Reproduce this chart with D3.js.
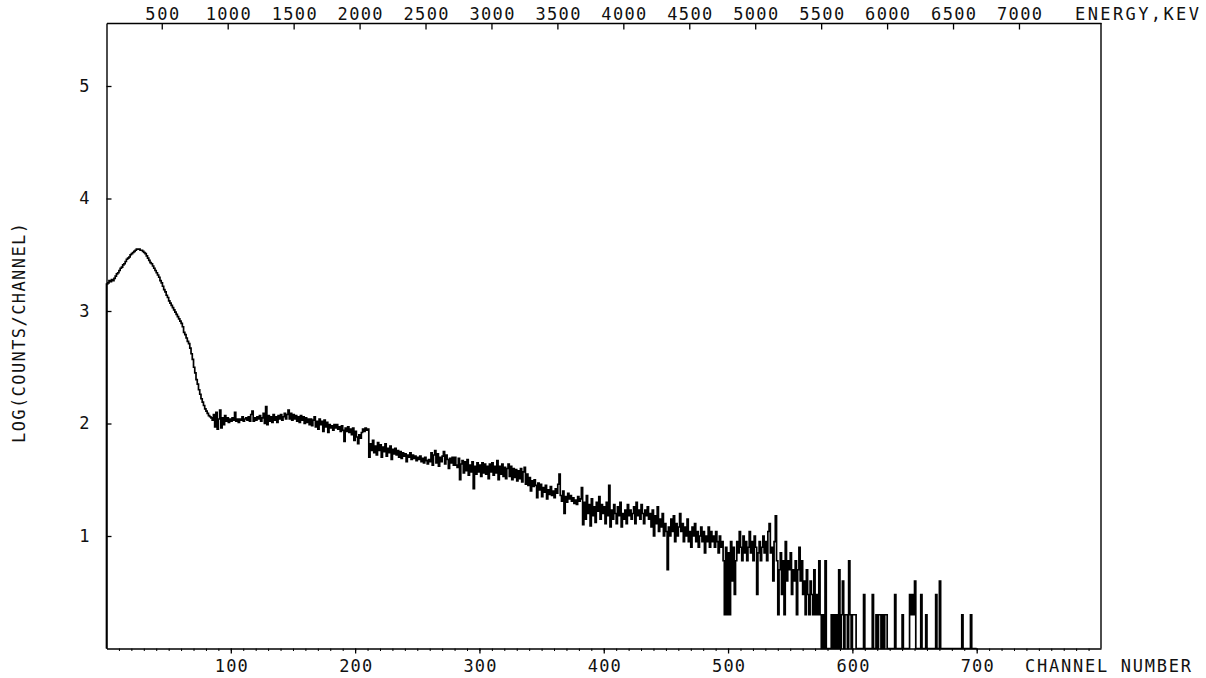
<!DOCTYPE html>
<html><head><meta charset="utf-8">
<script src="https://cdn.jsdelivr.net/npm/d3@7"></script>
<style>
body{margin:0;background:#fff}
text{font-family:"DejaVu Sans Mono",monospace;font-size:17px;fill:#111}
</style>
</head><body>
<svg id="chart" width="1206" height="678"></svg>
<script>
// log10(counts) per channel
const ch000_099 = [
 3.24,3.25,3.27,3.26,3.28,3.27,3.29,3.31,3.33,3.34,
 3.36,3.38,3.39,3.41,3.42,3.44,3.46,3.47,3.48,3.50,
 3.51,3.52,3.53,3.54,3.55,3.55,3.55,3.54,3.54,3.53,
 3.52,3.51,3.49,3.47,3.45,3.43,3.42,3.40,3.38,3.36,
 3.34,3.32,3.30,3.27,3.25,3.22,3.19,3.17,3.14,3.12,
 3.09,3.07,3.05,3.03,3.01,2.99,2.97,2.95,2.93,2.91,
 2.89,2.86,2.81,2.79,2.76,2.73,2.71,2.67,2.62,2.57,
 2.50,2.45,2.39,2.35,2.30,2.26,2.22,2.19,2.16,2.13,
 2.11,2.09,2.07,2.06,2.05,2.03,2.08,1.97,2.10,1.95,
 2.04,2.12,1.96,2.05,1.99,2.07,2.02,2.05,2.01,2.04];
const ch100_199 = [
 2.02,2.05,2.03,2.10,2.02,2.04,2.01,2.04,2.03,2.06,
 2.02,2.04,2.05,2.03,2.06,2.02,2.08,2.11,2.02,2.05,
 2.03,2.06,2.04,2.07,2.02,2.05,2.09,2.00,2.15,1.99,
 2.07,2.02,2.06,2.01,2.08,2.03,2.06,2.01,2.07,2.04,
 2.08,2.03,2.06,2.09,2.04,2.08,2.12,2.04,2.09,2.03,
 2.08,2.04,2.07,2.02,2.06,2.01,2.07,2.03,2.06,2.00,
 2.05,2.01,2.04,1.99,2.04,1.98,2.03,2.06,1.97,2.02,
 1.95,2.04,1.99,2.02,1.93,2.03,1.97,2.01,1.92,1.99,
 1.96,1.98,1.94,1.99,1.96,1.99,1.95,1.97,1.93,1.98,
 1.94,1.84,1.96,1.93,1.97,1.92,1.95,1.90,1.96,1.85];
const ch200_299 = [
 1.93,1.88,1.82,1.90,1.87,1.92,1.95,1.93,1.96,1.94,
 1.95,1.70,1.82,1.76,1.85,1.74,1.80,1.72,1.83,1.76,
 1.81,1.70,1.79,1.75,1.82,1.71,1.78,1.74,1.80,1.68,
 1.77,1.73,1.78,1.72,1.76,1.70,1.75,1.69,1.74,1.71,
 1.73,1.66,1.72,1.70,1.74,1.68,1.72,1.69,1.71,1.67,
 1.70,1.68,1.71,1.66,1.69,1.65,1.70,1.67,1.64,1.68,
 1.66,1.74,1.63,1.72,1.76,1.65,1.73,1.62,1.70,1.66,
 1.71,1.75,1.64,1.72,1.68,1.60,1.69,1.65,1.70,1.63,
 1.70,1.63,1.61,1.69,1.50,1.64,1.67,1.56,1.66,1.58,
 1.68,1.54,1.63,1.57,1.66,1.42,1.62,1.55,1.65,1.57];
const ch300_399 = [
 1.63,1.53,1.65,1.56,1.64,1.55,1.62,1.51,1.64,1.57,
 1.65,1.54,1.62,1.56,1.67,1.50,1.62,1.55,1.64,1.53,
 1.61,1.51,1.60,1.64,1.53,1.62,1.50,1.60,1.52,1.59,
 1.49,1.58,1.51,1.60,1.48,1.57,1.61,1.46,1.55,1.45,
 1.52,1.40,1.49,1.44,1.50,1.45,1.34,1.47,1.41,1.46,
 1.35,1.43,1.39,1.45,1.33,1.41,1.37,1.44,1.36,1.40,
 1.34,1.42,1.38,1.46,1.55,1.36,1.31,1.40,1.20,1.35,
 1.30,1.38,1.33,1.36,1.31,1.34,1.29,1.32,1.28,1.35,
 1.31,1.33,1.43,1.10,1.30,1.15,1.36,1.20,1.28,1.09,
 1.33,1.18,1.26,1.12,1.30,1.22,1.35,1.15,1.28,1.20];
const ch400_499 = [
 1.26,1.11,1.30,1.18,1.45,1.08,1.23,1.15,1.28,1.20,
 1.11,1.26,1.18,1.30,1.08,1.20,1.15,1.23,1.11,1.28,
 1.18,1.23,1.15,1.20,1.26,1.11,1.30,1.18,1.23,1.15,
 1.28,1.20,1.11,1.23,1.18,1.26,1.15,1.20,1.08,1.23,
 1.00,1.18,1.11,1.26,1.04,1.15,1.08,1.20,1.00,1.11,
 1.04,0.70,1.08,1.00,1.15,1.04,1.18,0.95,1.11,1.00,
 1.08,1.20,1.04,1.11,0.95,1.08,1.00,1.15,0.95,1.04,
 0.90,1.08,1.00,1.11,0.95,1.04,0.90,1.00,1.08,0.95,
 1.04,0.85,1.00,0.95,1.08,0.90,1.04,0.95,1.00,0.90,
 1.04,0.95,0.85,1.00,0.90,0.95,0.78,0.30,0.90,0.30];
const ch500_599 = [
 0.85,0.30,0.95,0.60,0.90,0.48,0.78,0.95,0.85,1.04,
 0.90,0.78,1.00,0.85,0.95,0.78,0.90,1.04,0.85,0.95,
 0.78,1.00,0.90,0.48,0.85,0.95,0.78,0.90,1.00,0.85,
 0.95,0.78,1.04,1.11,0.85,0.90,0.60,0.95,1.18,0.78,
 0.30,0.70,0.85,0.48,0.78,0.30,0.95,0.60,0.78,0.70,
 0.85,0.48,0.70,0.60,0.78,0.30,0.70,0.90,0.60,0.78,
 0.48,0.60,0.30,0.70,0.48,0.30,0.60,0.48,0.30,0.70,
 0.30,0.48,0.30,0.78,0.30,0,0.30,0,0.78,0,
 0,0,0,0.30,0,0.30,0,0.30,0,0.70,
 0,0.30,0.60,0,0.30,0.30,0,0.78,0.30,0];
const ch600_699 = [
 0.30,0.30,0.30,0,0,0,0,0,0,0.48,
 0,0,0,0,0,0,0.48,0,0,0.30,
 0,0.30,0.30,0,0.30,0,0.30,0.30,0,0,
 0,0,0,0,0.48,0,0,0,0,0,
 0.30,0,0,0,0,0,0.48,0.30,0.48,0.30,
 0.60,0,0,0,0,0.48,0,0,0,0.30,
 0,0,0,0,0,0,0,0.48,0,0,
 0.60,0,0,0,0,0,0,0,0,0,
 0,0,0,0,0,0,0,0,0.30,0,
 0,0,0,0,0,0.30,0,0,0,0];

const channelTicks = [100,200,300,400,500,600,700];
const energyTicks = [500,1000,1500,2000,2500,3000,3500,4000,4500,5000,5500,6000,6500,7000];
const logTicks = [1,2,3,4,5];
const channelDomain = [0,800];
const energyDomain = [81,7622];
const logDomain = [0,5.56];
const bottomTitle = "CHANNEL NUMBER";
const topTitle = "ENERGY,KEV";
const leftTitle = "LOG(COUNTS/CHANNEL)";

const L = 106.5, R = 1101, T = 23, B = 648.5;
const svg = d3.select("#chart");
const x = d3.scaleLinear().domain(channelDomain).range([L, R]);
const xe = d3.scaleLinear().domain(energyDomain).range([L, R]);
const y = d3.scaleLinear().domain(logDomain).range([B, T]);
const fmt = d3.format("d");

const values = [].concat(ch000_099, ch100_199, ch200_299, ch300_399, ch400_499, ch500_599, ch600_699);
const pts = [{c:0, v:0}].concat(values.map((v,i)=>({c:i, v})), [{c:values.length, v:0}]);

function styleAxis(g){
  g.selectAll("path.domain").attr("stroke","#000").attr("stroke-width",1.4);
  g.selectAll(".tick line").attr("stroke","#000").attr("stroke-width",1.3);
  g.selectAll("text").attr("fill","#111").style("font-family",'"DejaVu Sans Mono",monospace').style("font-size","17px");
}

// minor bottom ticks
const gMinor = svg.append("g").attr("transform",`translate(0,${B})`)
  .call(d3.axisBottom(x).tickValues(d3.range(10,800,10)).tickSize(2.5).tickFormat(""));
gMinor.select("path.domain").remove();
gMinor.selectAll(".tick line").attr("stroke","#000").attr("stroke-width",1);

// bottom axis
const gB = svg.append("g").attr("transform",`translate(0,${B})`)
  .call(d3.axisBottom(x).tickValues(channelTicks).tickSize(5).tickSizeOuter(0).tickFormat(fmt));
styleAxis(gB);
gB.selectAll("text").attr("y",23.5).attr("dy",null).attr("textLength",33).attr("lengthAdjust","spacing");

// top axis (energy)
const gT = svg.append("g").attr("transform",`translate(0,${T})`)
  .call(d3.axisTop(xe).tickValues(energyTicks).tickSize(-6.5).tickSizeOuter(0).tickFormat(fmt));
styleAxis(gT);
gT.selectAll("text").attr("y",-3.5).attr("dy",null)
  .attr("textLength",d=>fmt(d).length===3?34:45).attr("lengthAdjust","spacing");

// left axis
const gL = svg.append("g").attr("transform",`translate(${L},0)`)
  .call(d3.axisLeft(y).tickValues(logTicks).tickSize(-5).tickPadding(17).tickSizeOuter(0).tickFormat(fmt));
styleAxis(gL);

// right frame
svg.append("line").attr("x1",R).attr("x2",R).attr("y1",T).attr("y2",B)
  .attr("stroke","#000").attr("stroke-width",1.4);

// spectrum
svg.append("path").datum(pts)
  .attr("fill","none").attr("stroke","#000").attr("stroke-width",1.7)
  .attr("stroke-linejoin","miter")
  .attr("d", d3.line().x(d=>x(d.c)).y(d=>y(d.v)).curve(d3.curveStepAfter));

// titles
svg.append("text").attr("x",1025).attr("y",672).attr("textLength",166).attr("lengthAdjust","spacing").text(bottomTitle);
svg.append("text").attr("x",1075).attr("y",19.5).attr("textLength",124).attr("lengthAdjust","spacing").text(topTitle);
svg.append("text").attr("transform","translate(25,333) rotate(-90)").attr("text-anchor","middle")
  .attr("textLength",220).attr("lengthAdjust","spacing").text(leftTitle);
</script>
</body></html>
